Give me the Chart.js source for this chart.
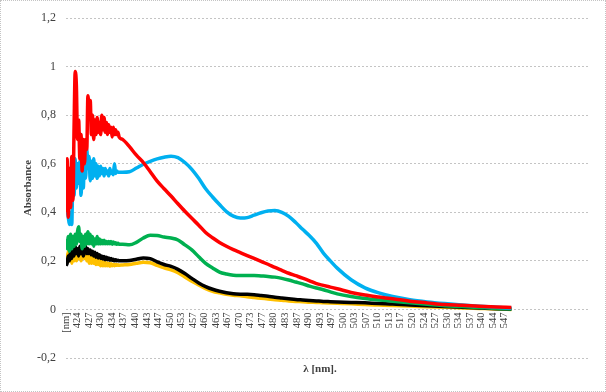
<!DOCTYPE html>
<html>
<head>
<meta charset="utf-8">
<script src="https://cdn.jsdelivr.net/npm/chart.js@4/dist/chart.umd.min.js"></script>
<style>
  html, body { margin: 0; padding: 0; background: #fff; }
  #wrap { position: relative; width: 606px; height: 392px; }
  #grafico { position: absolute; left: 0; top: 0; }
  #borda { position: absolute; left: 0; top: 0; width: 606px; height: 392px;
           box-sizing: border-box; border: 1px dotted #c4c4c4; pointer-events: none; }
</style>
</head>
<body>
<div id="wrap">
  <canvas id="grafico" width="606" height="392"></canvas>
  <div id="borda"></div>
</div>
<script>
/* comprimentos de onda (nm): denso na regiao ruidosa, depois espaçado */
const comprimentos = [
  420.67, 421.00, 421.33, 421.67, 422.00, 422.33, 422.67, 423.00, 423.33, 423.67,
  424.00, 424.33, 424.67, 425.00, 425.33, 425.67, 426.00, 426.33, 426.67, 427.00,
  427.33, 427.67, 428.00, 428.33, 428.67, 429.00, 429.33, 429.67, 430.00, 430.33,
  430.67, 431.00, 431.33, 431.67, 432.00, 432.33, 432.67, 433.00, 433.33, 433.67,
  434.00, 434.33, 434.67, 435.00, 435.33, 435.67, 436.00,
  437, 439, 441, 443, 445, 447, 449, 451, 453, 455,
  457, 459, 461, 463, 465, 467, 469, 471, 473, 475,
  477, 479, 481, 483, 485, 487, 489, 491, 493, 495,
  497, 499, 503, 507, 511, 515, 520, 525, 530, 535,
  540, 545, 549.3
];

const serieVermelha = [
  0.40, 0.62, 0.38, 0.58, 0.42, 0.63, 0.45, 0.75, 0.98, 0.92,
  0.70, 0.78, 0.62, 0.72, 0.57, 0.70, 0.60, 0.70, 0.66, 0.88,
  0.82, 0.86, 0.72, 0.80, 0.70, 0.78, 0.72, 0.79, 0.73, 0.77,
  0.72, 0.80, 0.74, 0.79, 0.73, 0.77, 0.72, 0.76, 0.73, 0.75,
  0.71, 0.75, 0.72, 0.74, 0.72, 0.73, 0.71,
  0.70, 0.67, 0.635, 0.605, 0.567, 0.528, 0.497, 0.467, 0.435, 0.404,
  0.375, 0.347, 0.317, 0.295, 0.276, 0.26, 0.246, 0.234, 0.222, 0.21,
  0.198, 0.186, 0.173, 0.161, 0.149, 0.139, 0.129, 0.118, 0.106, 0.099,
  0.092, 0.085, 0.07, 0.059, 0.051, 0.044, 0.034, 0.027, 0.02, 0.017,
  0.013, 0.01, 0.008
];

const serieAzul = [
  0.50, 0.42, 0.38, 0.35, 0.40, 0.35, 0.55, 0.47, 0.62, 0.50,
  0.60, 0.52, 0.61, 0.47, 0.56, 0.50, 0.63, 0.54, 0.66, 0.58,
  0.63, 0.53, 0.61, 0.54, 0.62, 0.55, 0.60, 0.54, 0.59, 0.55,
  0.59, 0.56, 0.58, 0.55, 0.58, 0.56, 0.57, 0.55, 0.58, 0.56,
  0.57, 0.555, 0.60, 0.56, 0.57, 0.565, 0.565,
  0.565, 0.567, 0.582, 0.598, 0.61, 0.62, 0.627, 0.631, 0.625, 0.605,
  0.577, 0.54, 0.497, 0.463, 0.432, 0.403, 0.384, 0.376, 0.378, 0.388,
  0.398, 0.405, 0.407, 0.40, 0.383, 0.358, 0.33, 0.303, 0.272, 0.232,
  0.20, 0.17, 0.122, 0.089, 0.068, 0.053, 0.04, 0.031, 0.024, 0.018,
  0.013, 0.009, 0.005
];

const serieVerde = [
  0.29, 0.25, 0.30, 0.24, 0.31, 0.25, 0.30, 0.26, 0.31, 0.27,
  0.32, 0.34, 0.28, 0.31, 0.25, 0.30, 0.26, 0.31, 0.27, 0.32,
  0.27, 0.31, 0.27, 0.30, 0.26, 0.29, 0.27, 0.30, 0.27, 0.29,
  0.27, 0.285, 0.27, 0.285, 0.27, 0.28, 0.27, 0.28, 0.27, 0.28,
  0.268, 0.278, 0.27, 0.275, 0.268, 0.272, 0.268,
  0.268, 0.266, 0.276, 0.294, 0.305, 0.304, 0.298, 0.294, 0.286, 0.266,
  0.245, 0.217, 0.19, 0.171, 0.154, 0.146, 0.141, 0.14, 0.14, 0.14,
  0.138, 0.136, 0.133, 0.128, 0.121, 0.113, 0.105, 0.096, 0.088, 0.081,
  0.072, 0.064, 0.053, 0.045, 0.039, 0.034, 0.027, 0.021, 0.015, 0.012,
  0.008, 0.004, 0.002
];

const seriePreta = [
  0.18, 0.19, 0.22, 0.20, 0.24, 0.21, 0.25, 0.22, 0.26, 0.23,
  0.25, 0.22, 0.26, 0.23, 0.25, 0.22, 0.24, 0.26, 0.23, 0.25,
  0.23, 0.245, 0.225, 0.24, 0.22, 0.235, 0.215, 0.23, 0.212, 0.225,
  0.21, 0.22, 0.208, 0.218, 0.205, 0.215, 0.205, 0.212, 0.203, 0.21,
  0.202, 0.207, 0.20, 0.205, 0.20, 0.203, 0.20,
  0.20, 0.201, 0.207, 0.212, 0.209, 0.196, 0.185, 0.177, 0.165, 0.148,
  0.128, 0.109, 0.094, 0.083, 0.075, 0.069, 0.065, 0.063, 0.062, 0.06,
  0.057, 0.054, 0.05, 0.047, 0.044, 0.041, 0.039, 0.037, 0.035, 0.033,
  0.032, 0.031, 0.029, 0.027, 0.024, 0.022, 0.018, 0.015, 0.012, 0.009,
  0.006, 0.003, 0.001
];

const serieLaranja = [
  0.23, 0.20, 0.24, 0.20, 0.23, 0.19, 0.22, 0.20, 0.24, 0.20,
  0.25, 0.21, 0.24, 0.20, 0.25, 0.26, 0.21, 0.24, 0.20, 0.23,
  0.19, 0.22, 0.19, 0.215, 0.19, 0.21, 0.185, 0.205, 0.185, 0.20,
  0.18, 0.198, 0.18, 0.195, 0.18, 0.192, 0.18, 0.19, 0.178, 0.188,
  0.18, 0.186, 0.18, 0.185, 0.182, 0.184, 0.182,
  0.183, 0.185, 0.19, 0.194, 0.192, 0.181, 0.171, 0.163, 0.151, 0.134,
  0.116, 0.101, 0.086, 0.075, 0.068, 0.062, 0.058, 0.056, 0.052, 0.049,
  0.046, 0.043, 0.04, 0.038, 0.035, 0.033, 0.032, 0.03, 0.029, 0.027,
  0.026, 0.025, 0.023, 0.02, 0.018, 0.016, 0.014, 0.011, 0.009, 0.006,
  0.004, 0.002, 0
];

/* rotulos do eixo x (categorias do Excel) */
const rotulosX = [
  "[nm]", "424", "427", "430", "434", "437", "440", "443", "447", "450",
  "453", "457", "460", "463", "467", "470", "473", "477", "480", "483",
  "487", "490", "493", "497", "500", "503", "507", "510", "513", "517",
  "520", "524", "527", "530", "534", "537", "540", "544", "547"
];
const inicioRotulos = 420.67;
const fimRotulos = 547.33;

/* rotulos do eixo y */
const valoresY = [-0.2, 0, 0.2, 0.4, 0.6, 0.8, 1, 1.2];

function pontos(serie) {
  return serie.map((v, i) => ({ x: comprimentos[i], y: v }));
}

function linha(serie, cor) {
  return {
    data: pontos(serie),
    borderColor: cor,
    backgroundColor: cor,
    borderWidth: 3.5,
    pointRadius: 0,
    cubicInterpolationMode: "monotone",
    fill: false
  };
}

const tituloX = {
  id: "tituloX",
  afterDraw(chart) {
    const ctx = chart.ctx;
    ctx.save();
    ctx.font = "bold 11px 'Liberation Serif'";
    ctx.fillStyle = "#404040";
    ctx.textAlign = "center";
    ctx.textBaseline = "middle";
    ctx.fillText("λ [nm].", 320, 369);
    ctx.restore();
  }
};

const passo = (fimRotulos - inicioRotulos) / (rotulosX.length - 1);

new Chart(document.getElementById("grafico"), {
  type: "line",
  data: {
    datasets: [
      linha(serieVermelha, "#FF0000"),
      linha(serieAzul, "#00B0F0"),
      linha(serieVerde, "#00B050"),
      linha(seriePreta, "#000000"),
      linha(serieLaranja, "#FFC000")
    ]
  },
  options: {
    responsive: false,
    animation: false,
    devicePixelRatio: 1,
    layout: { padding: { top: 18, bottom: 34, left: 0, right: 16 } },
    plugins: { legend: { display: false }, tooltip: { enabled: false } },
    scales: {
      x: {
        type: "linear",
        position: { y: 0 },
        min: inicioRotulos,
        max: 572,
        grid: { display: false, drawTicks: false },
        border: { display: false },
        afterBuildTicks: scale => {
          scale.ticks = rotulosX.map((_, i) => ({ value: inicioRotulos + i * passo }));
        },
        ticks: {
          autoSkip: false,
          minRotation: 90,
          maxRotation: 90,
          padding: 3,
          color: "#404040",
          font: { family: "'Liberation Serif'", size: 10.5 },
          callback: (v, i) => rotulosX[i]
        }
      },
      y: {
        min: -0.2,
        max: 1.2,
        afterFit: scale => { scale.width = 66; },
        afterBuildTicks: scale => {
          scale.ticks = valoresY.map(v => ({ value: v }));
        },
        grid: { color: "#c4c4c4", lineWidth: 1, drawTicks: false },
        border: { display: false, dash: [2, 2] },
        ticks: {
          padding: 10,
          color: "#404040",
          font: { family: "'Liberation Serif'", size: 12 },
          callback: v => String(Math.round(v * 10) / 10).replace(".", ",")
        },
        title: {
          display: true,
          text: "Absorbance",
          color: "#404040",
          font: { family: "'Liberation Serif'", size: 11, weight: "bold" },
          padding: { top: 22, bottom: 0 }
        }
      }
    }
  },
  plugins: [tituloX]
});
</script>
</body>
</html>
